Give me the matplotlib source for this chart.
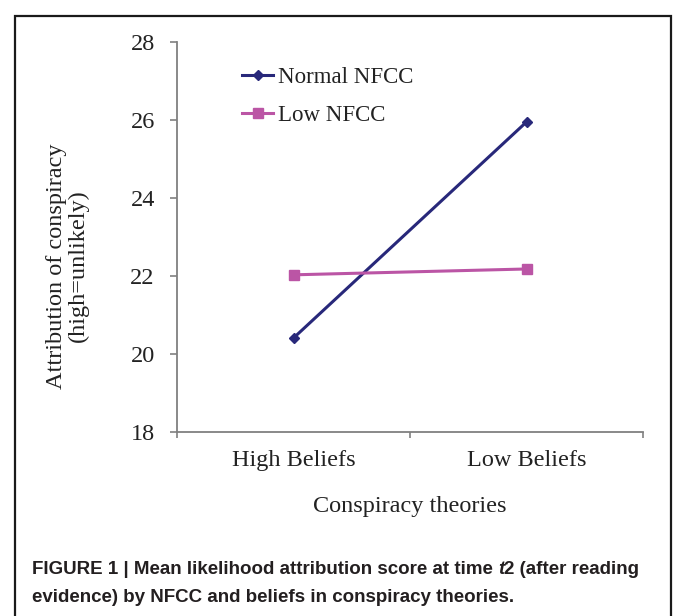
import matplotlib
matplotlib.use('Agg')
import matplotlib.pyplot as plt
from matplotlib.patches import Rectangle
from matplotlib.ticker import FixedLocator

# data
categories = ['High Beliefs', 'Low Beliefs']
normal_nfcc = [20.41, 25.95]
low_nfcc = [22.03, 22.18]
y_ticks = [18, 20, 22, 24, 26, 28]

serif = ['Liberation Serif', 'DejaVu Serif']
capfont = ['Liberation Sans Narrow', 'Liberation Sans', 'DejaVu Sans']

W, H = 673, 616
fig = plt.figure(figsize=(W / 100, H / 100), dpi=100)
fig.set_facecolor('white')

# outer frame around figure
fig.patches.append(Rectangle((15 / W, -0.1), (671 - 15) / W, 1.1 - 16 / H,
                             transform=fig.transFigure, fill=False,
                             edgecolor='#1a1a1a', linewidth=1.6))

ax = fig.add_axes([177 / W, 1 - 432 / H, (643 - 177) / W, (432 - 42) / H])
x = list(range(1, len(categories) + 1))
ax.plot(x, normal_nfcc, color='#28287a', marker='D', markersize=5.5,
        linewidth=2.2, label='Normal NFCC')
ax.plot(x, low_nfcc, color='#bb55a5', marker='s', markersize=7,
        linewidth=2.2, label='Low NFCC')

ax.set_xlim(0.5, 2.5)
ax.set_ylim(18, 28)
ax.set_yticks(y_ticks)
ax.set_xticks(x)
ax.set_xticklabels(categories, fontfamily=serif, fontsize=17.5, color='#222222')
ax.xaxis.set_minor_locator(FixedLocator([0.5, 1.5, 2.5]))
ax.tick_params(axis='x', which='major', length=0, pad=13)
ax.tick_params(axis='x', which='minor', length=4, width=1.2, color='#808080')
ax.tick_params(axis='y', length=5, width=1.2, color='#808080', pad=11,
               labelsize=17.5, labelcolor='#222222')
for lab in ax.get_yticklabels():
    lab.set_fontfamily(serif)

for s in ['top', 'right']:
    ax.spines[s].set_visible(False)
for s in ['left', 'bottom']:
    ax.spines[s].set_color('#808080')
    ax.spines[s].set_linewidth(1.3)

ax.set_xlabel('Conspiracy theories', fontfamily=serif, fontsize=17.5,
              color='#222222', labelpad=18)
fig.text(67 / W, 1 - 266 / H, 'Attribution of conspiracy\n(high=unlikely)',
         rotation=90, ha='center', va='center', multialignment='center',
         fontfamily=serif, fontsize=17.5, color='#222222', linespacing=1.05)

ax.legend(loc='upper left', bbox_to_anchor=(0.14, 0.937), frameon=False,
          borderpad=0, borderaxespad=0, handlelength=1.35, handletextpad=0.2,
          labelspacing=0.77, prop={'family': serif, 'size': 16.5},
          labelcolor='#222222')

# caption, line 1 built in pieces for the italic t
cap_kw = dict(fontfamily=capfont, fontsize=13.5, fontweight='bold',
              color='#231f20', va='center')
renderer = fig.canvas.get_renderer()
pieces = [('FIGURE 1 | Mean likelihood attribution score at time ', 'normal'),
          ('t', 'italic'),
          ('2 (after reading', 'normal')]
xpos = 32 / W
for txt, style in pieces:
    t = fig.text(xpos, 1 - 569 / H, txt, fontstyle=style, **cap_kw)
    bb = t.get_window_extent(renderer=renderer)
    xpos += bb.width / W
fig.text(32 / W, 1 - 597 / H,
         'evidence) by NFCC and beliefs in conspiracy theories.', **cap_kw)

fig.savefig('out.png', dpi=100, facecolor='white')
